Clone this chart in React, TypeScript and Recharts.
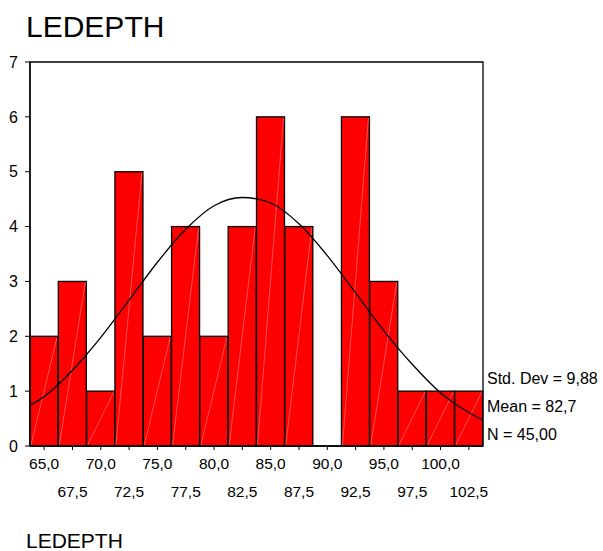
import React from 'react';
import { ComposedChart, Bar, Line, XAxis, YAxis, ReferenceArea } from 'recharts';

// histogram bins (midpoints) and counts
const binLabels = ['65,0', '67,5', '70,0', '72,5', '75,0', '77,5', '80,0', '82,5', '85,0', '87,5', '90,0', '92,5', '95,0', '97,5', '100,0', '102,5'];
const counts = [2, 3, 1, 5, 2, 4, 2, 4, 6, 4, 0, 6, 3, 1, 1, 1];

// normal curve
const curveX = [63.75, 65, 67.5, 70, 72.5, 75, 77.5, 80, 82.5, 85, 87.5, 90, 92.5, 95, 97.5, 100, 102.5, 103.75];
const curveY = [0.74, 0.9, 1.38, 1.98, 2.66, 3.35, 3.95, 4.38, 4.53, 4.43, 4.05, 3.47, 2.79, 2.1, 1.49, 0.97, 0.61, 0.47];

const yTicks = [0, 1, 2, 3, 4, 5, 6, 7];
const statLines = ['Std. Dev = 9,88', 'Mean = 82,7', 'N = 45,00'];

const barData = binLabels.map((label, i) => ({ label, count: counts[i] }));
const curveData = curveX.map((x, i) => ({ x, y: curveY[i] }));

const FONT = '"Liberation Sans", Arial, sans-serif';

const HistBar = (props: any) => {
  const { x, y, width, height } = props;
  if (!height || height <= 0) return null;
  return (
    <g>
      <rect x={x} y={y} width={width} height={height} fill="#ff0000" stroke="#000" strokeWidth={1.3} />
      <line x1={x + 1} y1={y + height - 1} x2={x + width - 1} y2={y + 1} stroke="#ffa0a0" strokeWidth={0.5} />
    </g>
  );
};

const XTick = (props: any) => {
  const { x, payload, index } = props;
  const baseY = index % 2 === 0 ? 469 : 497;
  return (
    <text x={x} y={baseY} textAnchor="middle" fontSize={15.5} fontFamily={FONT} fill="#000">
      {payload.value}
    </text>
  );
};

export default function App() {
  return (
    <div style={{ position: 'absolute', left: 0, top: 0, width: 603, height: 551, background: '#fff' }}>
      <ComposedChart
        width={603}
        height={551}
        data={barData}
        margin={{ top: 62, right: 120, bottom: 45, left: 0 }}
        barCategoryGap={0}
        barGap={0}
      >
        <XAxis
          xAxisId="cat"
          dataKey="label"
          type="category"
          interval={0}
          height={60}
          tickSize={4}
          tickMargin={2}
          tick={<XTick />}
          axisLine={{ stroke: '#000', strokeWidth: 1.3 }}
          tickLine={{ stroke: '#000' }}
        />
        <XAxis xAxisId="num" dataKey="x" type="number" domain={[63.75, 103.75]} hide allowDataOverflow />
        <YAxis
          domain={[0, 7]}
          ticks={yTicks}
          width={30}
          tickSize={5}
          tickMargin={7}
          allowDataOverflow
          axisLine={{ stroke: '#000', strokeWidth: 1.3 }}
          tickLine={{ stroke: '#000' }}
          tick={{ fill: '#000', fontSize: 16, fontFamily: FONT }}
        />
        <ReferenceArea xAxisId="num" x1={63.75} x2={103.75} y1={0} y2={7} fill="none" stroke="#000" strokeWidth={1.3} ifOverflow="visible" />
        <Bar xAxisId="cat" dataKey="count" shape={<HistBar />} isAnimationActive={false} />
        <Line
          xAxisId="num"
          data={curveData}
          dataKey="y"
          type="monotone"
          stroke="#000"
          strokeWidth={1.3}
          dot={false}
          activeDot={false}
          isAnimationActive={false}
        />
      </ComposedChart>
      <svg width={603} height={551} style={{ position: 'absolute', left: 0, top: 0, pointerEvents: 'none' }}>
        <text x={26} y={37} fontSize={30} fontFamily={FONT} fill="#000">LEDEPTH</text>
        {statLines.map((s, i) => (
          <text key={s} x={487} y={384 + i * 28} fontSize={16} fontFamily={FONT} fill="#000">{s}</text>
        ))}
        <text x={26} y={548} fontSize={21} fontFamily={FONT} fill="#000">LEDEPTH</text>
      </svg>
    </div>
  );
}
